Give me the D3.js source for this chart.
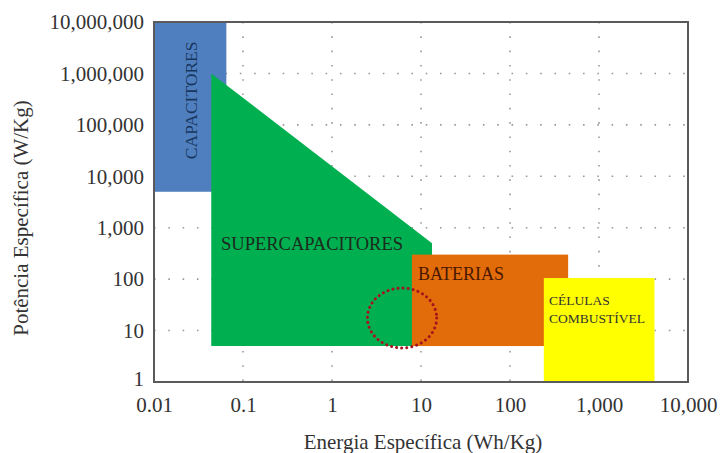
<!DOCTYPE html>
<html>
<head>
<meta charset="utf-8">
<script src="https://cdn.jsdelivr.net/npm/d3@7"></script>
<style>
  body { margin: 0; background: #fff; }
  svg text { font-family: "Liberation Serif", "DejaVu Serif", "Times New Roman", serif; }
</style>
</head>
<body>
<svg width="728" height="453"></svg>
<script>
// ticks
const xTicks = [0.01, 0.1, 1, 10, 100, 1000, 10000];
const yTicks = [1, 10, 100, 1000, 10000, 100000, 1000000, 10000000];

// regions (energia Wh/Kg, potência W/Kg)
const capacitores = { e: [0.01, 0.065], p: [5000, 1e7] };
const supercap = [[0.044, 1e6], [13.3, 500], [13.3, 5], [0.044, 5]];
const baterias = { e: [7.9, 450], p: [5, 300] };
const celulas = { e: [240, 4200], p: [1, 105] };
const destaque = { e: [2.5, 15], p: [4.6, 67] };

const serif = '"Liberation Serif", "DejaVu Serif", "Times New Roman", serif';
const svg = d3.select("svg");

const x = d3.scaleLog().domain([0.01, 10000]).range([154, 688]);
const y = d3.scaleLog().domain([1, 1e7]).range([382, 22]);
const fmt = d3.format(",");

// grid
const grid = svg.append("g")
  .attr("stroke", "#999")
  .attr("stroke-width", 1.6)
  .attr("stroke-dasharray", "1.6 12.7");

grid.selectAll(".gx")
  .data(xTicks.slice(1, -1))
  .join("line")
  .attr("x1", d => x(d)).attr("x2", d => x(d))
  .attr("y1", y(1e7)).attr("y2", y(1));

grid.selectAll(".gy")
  .data(yTicks.slice(1, -1))
  .join("line")
  .attr("y1", d => y(d)).attr("y2", d => y(d))
  .attr("x1", x(0.01)).attr("x2", x(10000));

// regions
svg.append("rect")
  .attr("x", x(capacitores.e[0]))
  .attr("y", y(capacitores.p[1]))
  .attr("width", x(capacitores.e[1]) - x(capacitores.e[0]))
  .attr("height", y(capacitores.p[0]) - y(capacitores.p[1]))
  .attr("fill", "#4f7fbe");

svg.append("polygon")
  .attr("points", supercap.map(d => [x(d[0]), y(d[1])].join(",")).join(" "))
  .attr("fill", "#00b050");

svg.append("rect")
  .attr("x", x(baterias.e[0]))
  .attr("y", y(baterias.p[1]))
  .attr("width", x(baterias.e[1]) - x(baterias.e[0]))
  .attr("height", y(baterias.p[0]) - y(baterias.p[1]))
  .attr("fill", "#e36c0a");

svg.append("rect")
  .attr("x", x(celulas.e[0]))
  .attr("y", y(celulas.p[1]))
  .attr("width", x(celulas.e[1]) - x(celulas.e[0]))
  .attr("height", y(celulas.p[0]) - y(celulas.p[1]))
  .attr("fill", "#ffff00");

svg.append("ellipse")
  .attr("cx", (x(destaque.e[0]) + x(destaque.e[1])) / 2)
  .attr("cy", (y(destaque.p[0]) + y(destaque.p[1])) / 2)
  .attr("rx", (x(destaque.e[1]) - x(destaque.e[0])) / 2)
  .attr("ry", (y(destaque.p[0]) - y(destaque.p[1])) / 2)
  .attr("fill", "none")
  .attr("stroke", "#a3141e")
  .attr("stroke-width", 3)
  .attr("stroke-linecap", "round")
  .attr("stroke-dasharray", "0.1 5");

// region labels
svg.append("text")
  .attr("transform", `translate(${x(0.026) + 6},${y(3e5)}) rotate(-90)`)
  .attr("text-anchor", "middle")
  .attr("font-size", 17.5)
  .attr("fill", "#17375e")
  .text("CAPACITORES");

svg.append("text")
  .attr("x", 221).attr("y", 250)
  .attr("font-size", 18.5)
  .attr("fill", "#1c2b1c")
  .text("SUPERCAPACITORES");

svg.append("text")
  .attr("x", 418).attr("y", 280)
  .attr("font-size", 18)
  .attr("fill", "#4a1800")
  .text("BATERIAS");

svg.append("text")
  .attr("x", 549).attr("y", 305)
  .attr("font-size", 13.5)
  .attr("fill", "#333")
  .text("CÉLULAS");

svg.append("text")
  .attr("x", 549).attr("y", 323)
  .attr("font-size", 13.5)
  .attr("fill", "#333")
  .text("COMBUSTÍVEL");

// frame
svg.append("rect")
  .attr("x", x(0.01)).attr("y", y(1e7))
  .attr("width", x(10000) - x(0.01))
  .attr("height", y(1) - y(1e7))
  .attr("fill", "none")
  .attr("stroke", "#5a5a5a")
  .attr("stroke-width", 2);

// axes
const xAxis = svg.append("g")
  .attr("transform", `translate(0,${y(1)})`)
  .call(d3.axisBottom(x).tickValues(xTicks).tickFormat(fmt).tickSize(0).tickPadding(15));
const yAxis = svg.append("g")
  .attr("transform", `translate(${x(0.01)},0)`)
  .call(d3.axisLeft(y).tickValues(yTicks).tickFormat(fmt).tickSize(0).tickPadding(10));

[xAxis, yAxis].forEach(a => {
  a.select(".domain").remove();
  a.attr("font-family", serif);
  a.selectAll("text")
    .style("font-family", serif)
    .attr("font-size", 21)
    .attr("fill", "#333");
});
// y label "1" sits right above "0.01"
yAxis.selectAll("text").filter(d => d === 1).attr("dy", "0.15em");

// titles
svg.append("text")
  .attr("x", 423).attr("y", 449)
  .attr("text-anchor", "middle")
  .attr("font-size", 21)
  .attr("fill", "#333")
  .text("Energia Específica (Wh/Kg)");

svg.append("text")
  .attr("transform", "translate(28,218) rotate(-90)")
  .attr("text-anchor", "middle")
  .attr("font-size", 21)
  .attr("fill", "#333")
  .text("Potência Específica (W/Kg)");
</script>
</body>
</html>
